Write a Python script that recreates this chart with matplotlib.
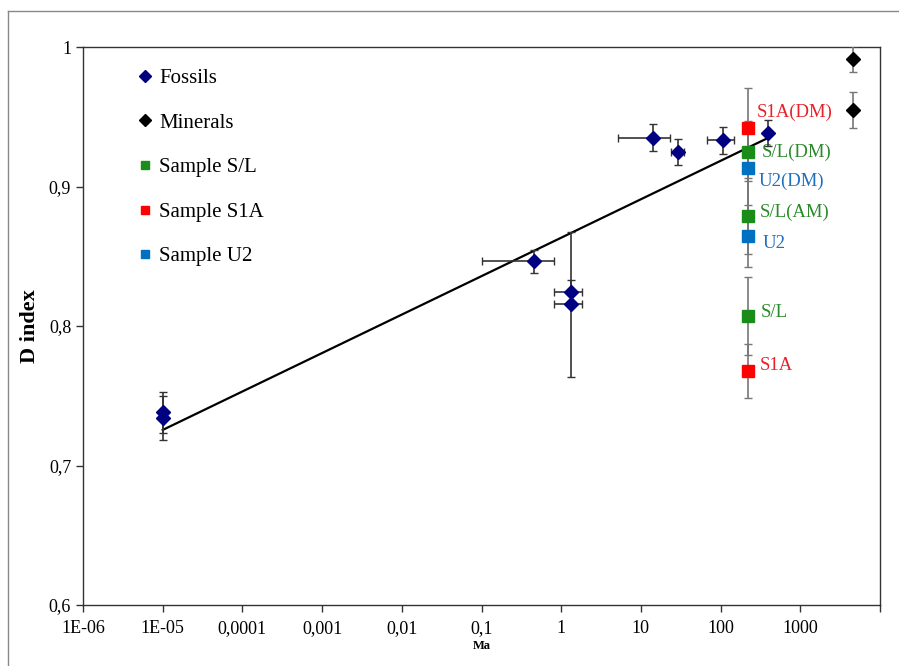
import matplotlib.pyplot as plt
from matplotlib.lines import Line2D
from matplotlib.ticker import FixedLocator, FixedFormatter, NullLocator

# fossils (Ma, D index, errors)
fossil_x = [1e-5, 1e-5, 0.456, 1.33, 1.33, 14.3, 28.9, 108, 397]
fossil_y = [0.738, 0.734, 0.8465, 0.8246, 0.8157, 0.935, 0.9244, 0.933, 0.9385]
fossil_yerr = [0.015, 0.016, 0.0083, 0.0081, 0.052, 0.0095, 0.0093, 0.0094, 0.0092]
fossil_xlo = [0, 0, 0.356, 0.52, 0.52, 9.2, 5.2, 41, 0]
fossil_xhi = [0, 0, 0.354, 0.51, 0.51, 8.9, 6.1, 41, 0]

# minerals
mineral_x = [4600, 4600]
mineral_y = [0.9914, 0.9548]
mineral_yerr = [0.0095, 0.0128]

# samples (all at the same age)
sample_age = 222
sample_names = ["S1A(DM)", "S/L(DM)", "U2(DM)", "S/L(AM)", "U2", "S/L", "S1A"]
sample_group = ["S1A", "S/L", "U2", "S/L", "U2", "S/L", "S1A"]
sample_y = [0.942, 0.9244, 0.9136, 0.8789, 0.8645, 0.807, 0.768]
sample_yerr = [0.0283, 0.0204, 0.0335, 0.0273, 0.0223, 0.028, 0.0194]

# trend line end points
fit_x = [1e-5, 400]
fit_y = [0.7255, 0.935]

xticks = [1e-6, 1e-5, 1e-4, 1e-3, 1e-2, 1e-1, 1, 10, 100, 1000, 10000]
xlabels = ["1E-06", "1E-05", "0,0001", "0,001", "0,01", "0,1", "1", "10", "100", "1000", ""]
yticks = [0.6, 0.7, 0.8, 0.9, 1.0]
ylabels = ["0,6", "0,7", "0,8", "0,9", "1"]

navy = "#000080"
grp_color = {"S/L": "#1a8c1a", "S1A": "#ff0000", "U2": "#0070c0"}
txt_color = {"S/L": "#2a8a2a", "S1A": "#e8202a", "U2": "#1f6fbf"}
# label offsets next to each sample square (points)
label_dx = [6.5, 9.5, 7.5, 8.5, 10, 9, 8]
label_dy = [11.3, 0, -9.9, 2.7, -5.3, 2.7, 3.6]

plt.rcParams['font.family'] = ['Liberation Serif', 'DejaVu Serif']

fig = plt.figure(figsize=(8.99, 6.66), dpi=100)
ax = fig.add_axes([83/899, 1-605/666, (880-83)/899, (605-47)/666])

# outer frame (left and top only visible)
fig.add_artist(Line2D([8/899, 8/899], [0, 1-11/666], transform=fig.transFigure, color="#888888", lw=1))
fig.add_artist(Line2D([8/899, 1], [1-11/666, 1-11/666], transform=fig.transFigure, color="#888888", lw=1))

# trend line
ax.plot(fit_x, fit_y, color="black", lw=1.6, zorder=3)

# fossils
ax.errorbar(fossil_x, fossil_y, yerr=fossil_yerr, xerr=[fossil_xlo, fossil_xhi],
            fmt="D", color=navy, ms=7, ecolor="#333333", elinewidth=1.2, capsize=3, zorder=4)

# minerals
ax.errorbar(mineral_x, mineral_y, yerr=mineral_yerr, fmt="D", color="black", ms=7,
            ecolor="#777777", elinewidth=1.2, capsize=3, zorder=4)

# samples
for i, (name, g, y, e) in enumerate(zip(sample_names, sample_group, sample_y, sample_yerr)):
    ax.errorbar([sample_age], [y], yerr=[e], fmt="s", color=grp_color[g], ms=8,
                ecolor="#777777", elinewidth=1.2, capsize=3, zorder=5)
    ax.annotate(name, (sample_age, y), xytext=(label_dx[i], label_dy[i]),
                textcoords="offset points", color=txt_color[g], fontsize=13.5, va="center", ha="left")

ax.set_xscale("log")
ax.set_xlim(1e-6, 1e4)
ax.set_ylim(0.6, 1.0)
ax.xaxis.set_major_locator(FixedLocator(xticks))
ax.xaxis.set_major_formatter(FixedFormatter(xlabels))
ax.xaxis.set_minor_locator(NullLocator())
ax.set_yticks(yticks)
ax.set_yticklabels(ylabels)
ax.tick_params(axis="both", direction="out", length=5, width=1, labelsize=13, color="#333333")
ax.tick_params(axis="x", pad=6)
for s in ax.spines.values():
    s.set_color("#333333")
    s.set_linewidth(1)

ax.set_ylabel("D index", fontsize=16, fontweight="bold", labelpad=6)
ax.set_xlabel("Ma", fontsize=9, fontweight="bold", labelpad=2)

handles = [
    Line2D([], [], ls="none", marker="D", color=navy, ms=6),
    Line2D([], [], ls="none", marker="D", color="black", ms=6),
    Line2D([], [], ls="none", marker="s", color=grp_color["S/L"], ms=6),
    Line2D([], [], ls="none", marker="s", color=grp_color["S1A"], ms=6),
    Line2D([], [], ls="none", marker="s", color=grp_color["U2"], ms=6),
]
labels = ["Fossils", "Minerals", "Sample S/L", "Sample S1A", "Sample U2"]
ax.legend(handles, labels, loc="upper left", bbox_to_anchor=(0.047, 0.995), frameon=False,
          fontsize=15, labelspacing=1.2, handlelength=0.6, handletextpad=0.35)

fig.savefig("out.png", dpi=100)
